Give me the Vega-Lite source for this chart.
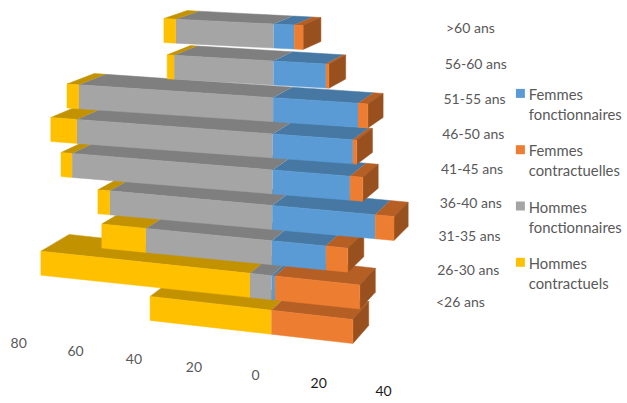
{
"$schema":"https://vega.github.io/schema/vega-lite/v6.json",
"width":627,"height":403,"padding":0,"autosize":{"type":"none"},
"background":"white",
"config":{"view":{"stroke":null}},
"datasets":{
"barres":[
{"tranche":"<26 ans","serie":"Hommes contractuels","valeur":-40.4},
{"tranche":"<26 ans","serie":"Femmes contractuelles","valeur":27.2},
{"tranche":"26-30 ans","serie":"Hommes fonctionnaires","valeur":-7.2},
{"tranche":"26-30 ans","serie":"Hommes contractuels","valeur":-69.7},
{"tranche":"26-30 ans","serie":"Femmes fonctionnaires","valeur":1.1},
{"tranche":"26-30 ans","serie":"Femmes contractuelles","valeur":28.3},
{"tranche":"31-35 ans","serie":"Hommes fonctionnaires","valeur":-42},
{"tranche":"31-35 ans","serie":"Hommes contractuels","valeur":-14.7},
{"tranche":"31-35 ans","serie":"Femmes fonctionnaires","valeur":18},
{"tranche":"31-35 ans","serie":"Femmes contractuelles","valeur":7.3},
{"tranche":"36-40 ans","serie":"Hommes fonctionnaires","valeur":-54.1},
{"tranche":"36-40 ans","serie":"Hommes contractuels","valeur":-4},
{"tranche":"36-40 ans","serie":"Femmes fonctionnaires","valeur":34.3},
{"tranche":"36-40 ans","serie":"Femmes contractuelles","valeur":6.3},
{"tranche":"41-45 ans","serie":"Hommes fonctionnaires","valeur":-66.8},
{"tranche":"41-45 ans","serie":"Hommes contractuels","valeur":-3.7},
{"tranche":"41-45 ans","serie":"Femmes fonctionnaires","valeur":25.8},
{"tranche":"41-45 ans","serie":"Femmes contractuelles","valeur":4.3},
{"tranche":"46-50 ans","serie":"Hommes fonctionnaires","valeur":-65.3},
{"tranche":"46-50 ans","serie":"Hommes contractuels","valeur":-8.7},
{"tranche":"46-50 ans","serie":"Femmes fonctionnaires","valeur":26.7},
{"tranche":"46-50 ans","serie":"Femmes contractuelles","valeur":1.3},
{"tranche":"51-55 ans","serie":"Hommes fonctionnaires","valeur":-64.7},
{"tranche":"51-55 ans","serie":"Hommes contractuels","valeur":-4},
{"tranche":"51-55 ans","serie":"Femmes fonctionnaires","valeur":28.3},
{"tranche":"51-55 ans","serie":"Femmes contractuelles","valeur":3.3},
{"tranche":"56-60 ans","serie":"Hommes fonctionnaires","valeur":-33.1},
{"tranche":"56-60 ans","serie":"Hommes contractuels","valeur":-2.3},
{"tranche":"56-60 ans","serie":"Femmes fonctionnaires","valeur":17.5},
{"tranche":"56-60 ans","serie":"Femmes contractuelles","valeur":1},
{"tranche":">60 ans","serie":"Hommes fonctionnaires","valeur":-32.6},
{"tranche":">60 ans","serie":"Hommes contractuels","valeur":-4},
{"tranche":">60 ans","serie":"Femmes fonctionnaires","valeur":6.8},
{"tranche":">60 ans","serie":"Femmes contractuelles","valeur":3}
],
"tranches":[
{"tranche":">60 ans"},{"tranche":"56-60 ans"},{"tranche":"51-55 ans"},{"tranche":"46-50 ans"},{"tranche":"41-45 ans"},{"tranche":"36-40 ans"},{"tranche":"31-35 ans"},{"tranche":"26-30 ans"},{"tranche":"<26 ans"}
],
"graduations":[{"g":-80},{"g":-60},{"g":-40},{"g":-20},{"g":0},{"g":20},{"g":40}]
},
"layer":[
{
"data":{"name":"barres"},
"transform":[
{"stack":"valeur","groupby":["tranche"],"as":["v0","v1"]},
{"calculate":"indexof(['>60 ans','56-60 ans','51-55 ans','46-50 ans','41-45 ans','36-40 ans','31-35 ans','26-30 ans','<26 ans'],datum.tranche)","as":"i"},
{"calculate":"datum.serie==='Femmes contractuelles'?['dessus','cote','face']:['dessus','face']","as":"faces"},
{"flatten":["faces"],"as":["faceNom"]},
{"calculate":"[0,1,2,3]","as":"ks"},
{"flatten":["ks"],"as":["k"]},
{"calculate":"datum.faceNom==='cote'?1:[0,1,1,0][datum.k]","as":"vx"},
{"calculate":"datum.faceNom==='face'?0:(datum.faceNom==='dessus'?[0,0,1,1][datum.k]:[0,1,1,0][datum.k])","as":"vd"},
{"calculate":"datum.faceNom==='dessus'?0:[0,0,1,1][datum.k]","as":"vh"},
{"calculate":"273.7-0.3*datum.i+3*(datum.vx?datum.v1:datum.v0)","as":"xb"},
{"calculate":"(datum.xb+datum.vd*(19-0.04*(datum.xb-273))-273)/3","as":"X"},
{"calculate":"(24+35.8*datum.i+0.17*datum.i*(8-datum.i)+(0.05+0.008*datum.i)*(datum.xb-273)+24*datum.vh-datum.vd*(8+1.25*datum.i))/35.8","as":"Y"},
{"calculate":"datum.tranche+datum.serie+datum.faceNom","as":"poly"},
{"calculate":"datum.faceNom==='face'?datum.serie:datum.serie+' '+datum.faceNom","as":"teinte"}
],
"mark":{"type":"line","strokeWidth":0.5,"interpolate":"linear"},
"encoding":{
"x":{"field":"X","type":"quantitative","axis":null,"scale":{"domain":[-91,118],"nice":false,"zero":false}},
"y":{"field":"Y","type":"quantitative","axis":null,"scale":{"domain":[0,11.257],"range":[0,403],"nice":false,"zero":false}},
"detail":{"field":"poly"},
"order":{"field":"k"},
"fill":{"field":"teinte","type":"nominal","scale":{
"domain":["Femmes fonctionnaires","Femmes contractuelles","Hommes fonctionnaires","Hommes contractuels","Femmes fonctionnaires dessus","Femmes contractuelles dessus","Hommes fonctionnaires dessus","Hommes contractuels dessus","Femmes contractuelles cote"],
"range":["#5B9BD5","#ED7D31","#A5A5A5","#FFC000","#4678A3","#B55F25","#7F7F7F","#C29200","#97501E"]},
"legend":{"orient":"none","legendX":513,"legendY":86,"title":null,"values":["Femmes fonctionnaires","Femmes contractuelles","Hommes fonctionnaires","Hommes contractuels"],"symbolType":"square","symbolSize":81,"symbolStrokeWidth":0,"labelFont":"Lato","labelFontSize":14.8,"labelColor":"#595959","labelExpr":"split(datum.label,' ')","rowPadding":19.3,"labelLimit":200,"labelOffset":1,"labelBaseline":"top","encode":{"labels":{"update":{"lineHeight":{"value":20},"dy":{"value":-5.5}}}}}},
"stroke":{"field":"teinte","type":"nominal","legend":null,"scale":{
"domain":["Femmes fonctionnaires","Femmes contractuelles","Hommes fonctionnaires","Hommes contractuels","Femmes fonctionnaires dessus","Femmes contractuelles dessus","Hommes fonctionnaires dessus","Hommes contractuels dessus","Femmes contractuelles cote"],
"range":["#5B9BD5","#ED7D31","#A5A5A5","#FFC000","#4678A3","#B55F25","#7F7F7F","#C29200","#97501E"]}}
}
},
{
"data":{"name":"tranches"},
"transform":[
{"calculate":"indexof(['>60 ans','56-60 ans','51-55 ans','46-50 ans','41-45 ans','36-40 ans','31-35 ans','26-30 ans','<26 ans'],datum.tranche)","as":"i"},
{"calculate":"(446-1.25*datum.i-273)/3","as":"X"},
{"calculate":"(28.7+34.3*datum.i+0.25*datum.i*(8-datum.i))/35.8","as":"Y"}
],
"mark":{"type":"text","align":"left","baseline":"middle","font":"Lato","fontSize":14,"color":"#595959"},
"encoding":{
"x":{"field":"X","type":"quantitative","axis":null},
"y":{"field":"Y","type":"quantitative","axis":null},
"text":{"field":"tranche"}
}
},
{
"data":{"name":"graduations"},
"transform":[
{"calculate":"(255.5+3.12*datum.g+0.002*datum.g*datum.g-273)/3","as":"X"},
{"calculate":"(376+0.4*datum.g)/35.8","as":"Y"},
{"calculate":"abs(datum.g)","as":"lib"},
{"calculate":"datum.g>0?'droite':'gauche'","as":"cote"}
],
"mark":{"type":"text","align":"center","baseline":"middle","font":"Lato","fontSize":14},
"encoding":{
"x":{"field":"X","type":"quantitative","axis":null},
"y":{"field":"Y","type":"quantitative","axis":null},
"text":{"field":"lib"},
"color":{"field":"cote","type":"nominal","legend":null,"scale":{"domain":["gauche","droite"],"range":["#595959","#1a1a1a"]}}
}
}
],
"resolve":{"scale":{"color":"independent","fill":"independent","stroke":"independent"}}
}
